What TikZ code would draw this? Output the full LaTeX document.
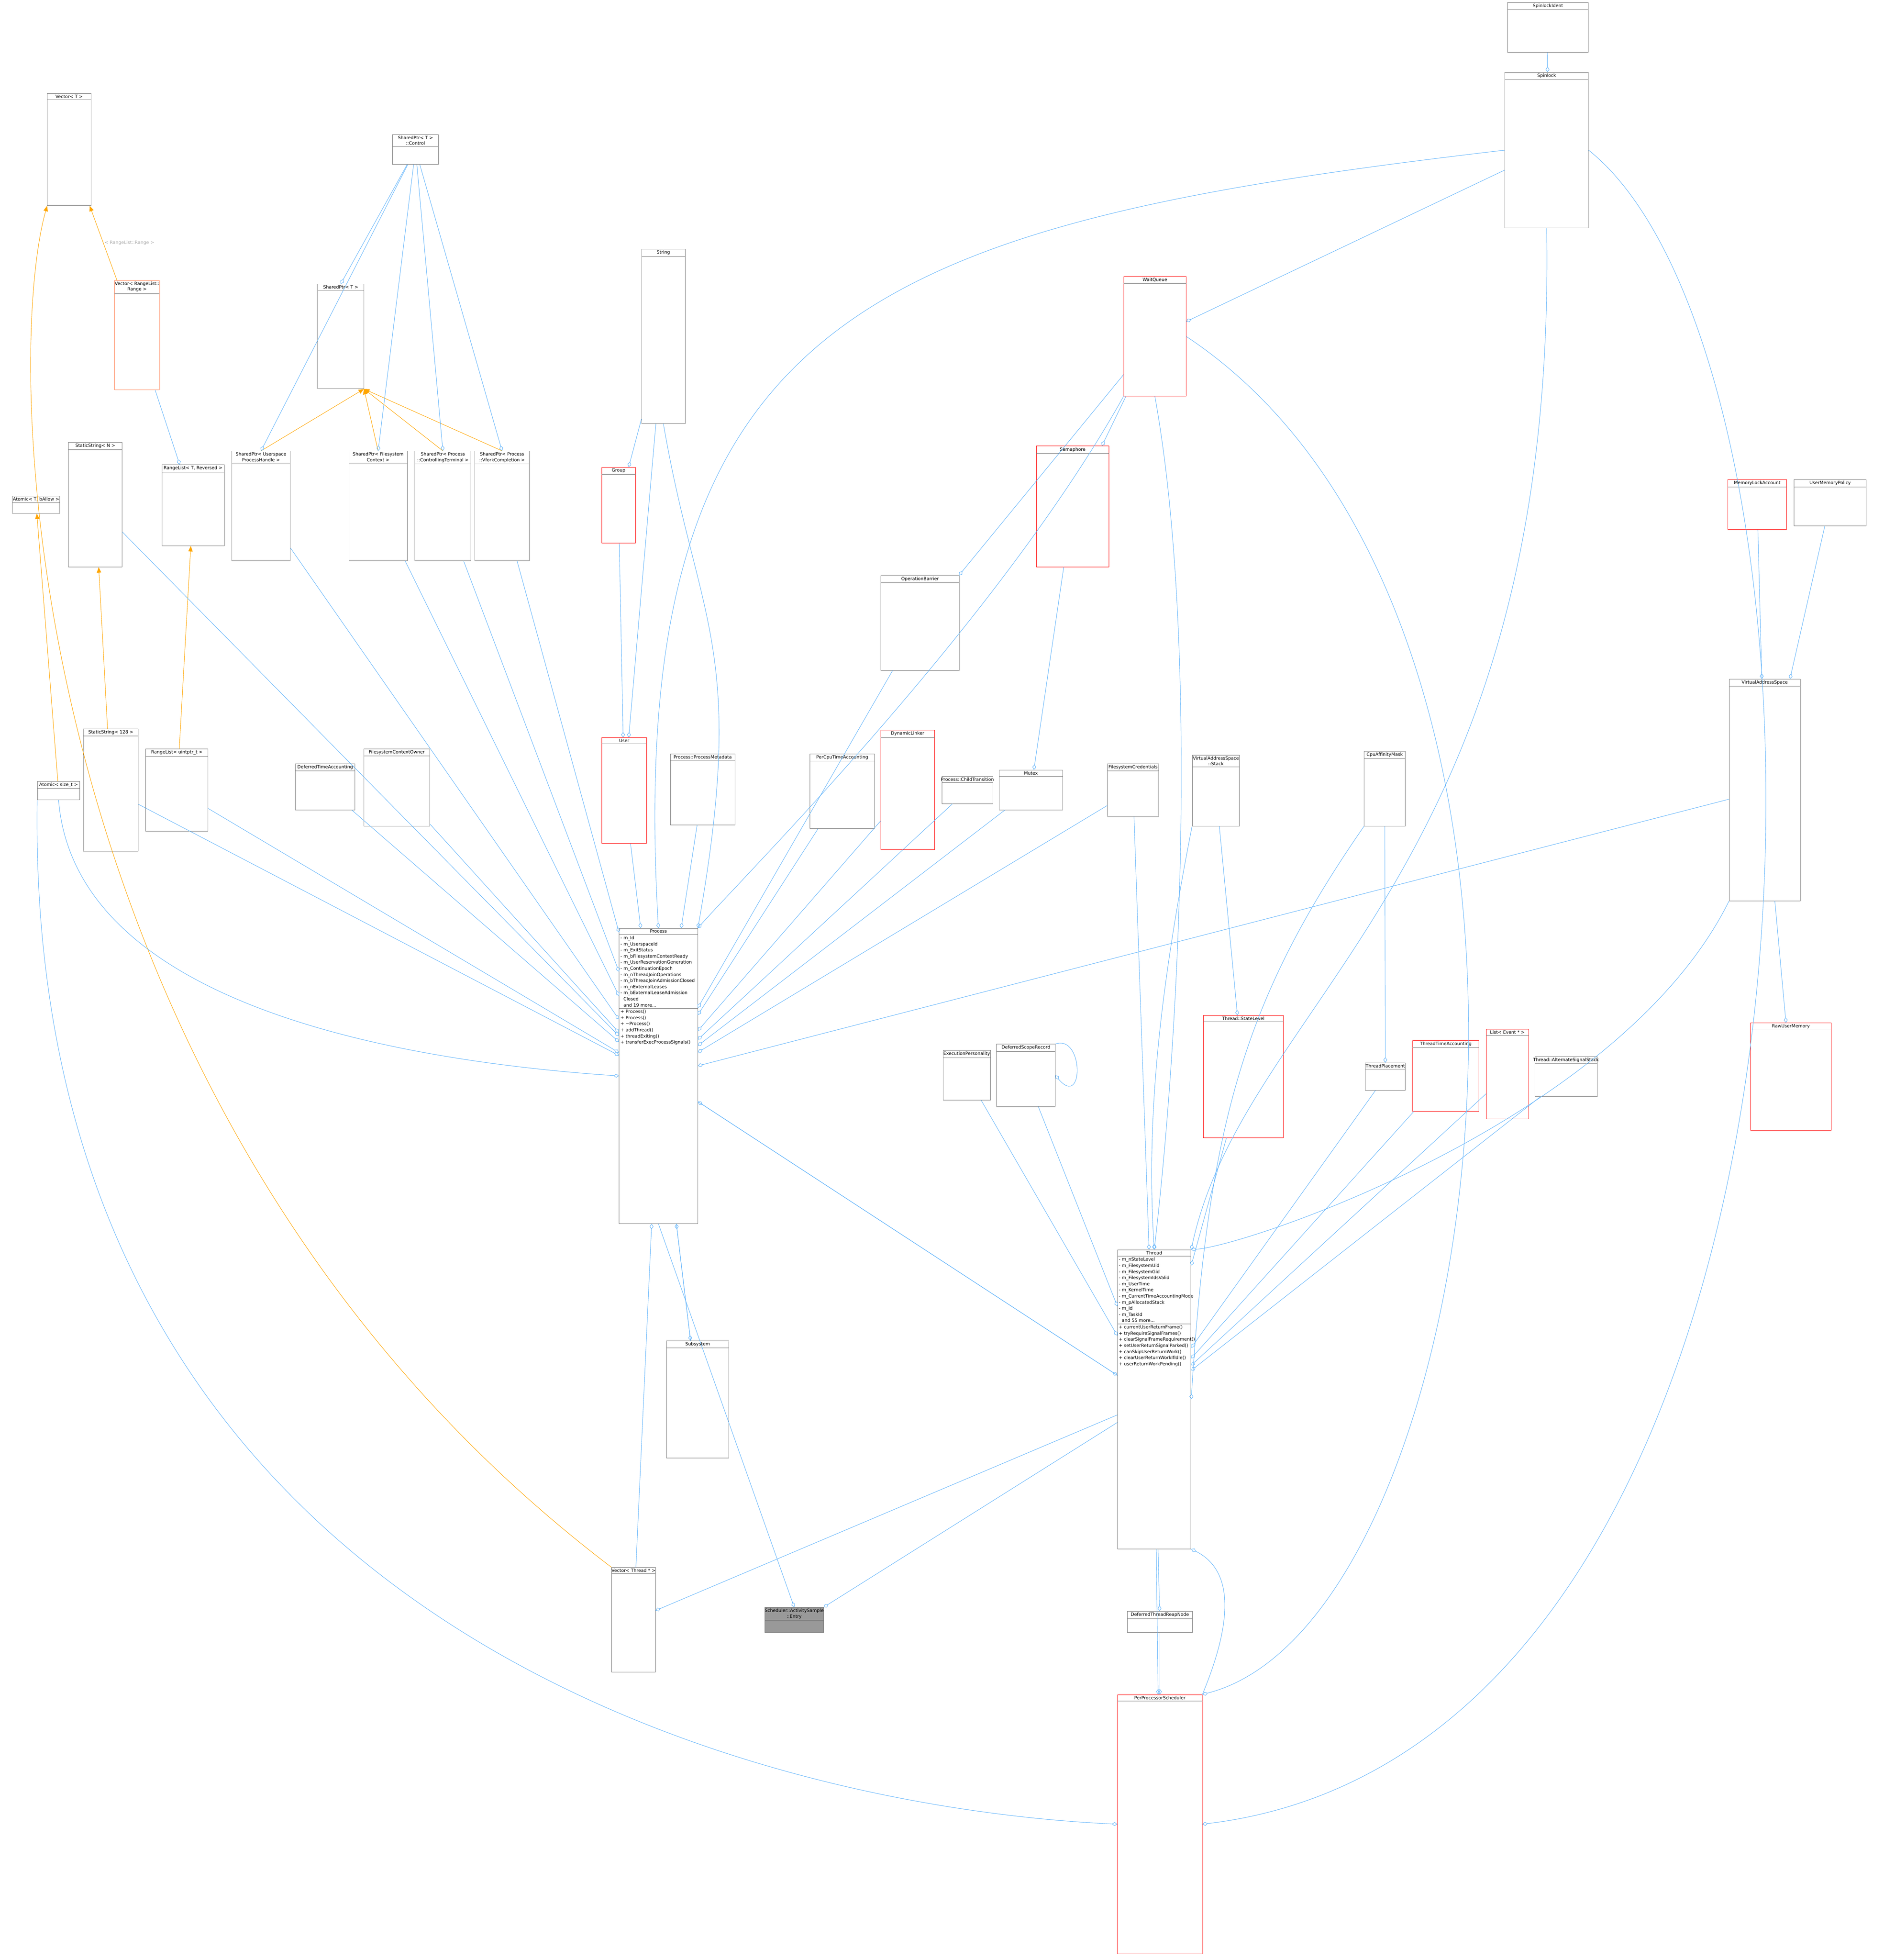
\documentclass[tikz,border=0pt]{standalone}
\usepackage{fontspec}
\setmainfont{DejaVu Sans}
\usetikzlibrary{arrows.meta, fit, calc}

\definecolor{edgeblue}{RGB}{99,180,250}
\definecolor{tplorange}{RGB}{255,165,0}
\definecolor{lblgrey}{RGB}{170,170,170}
\definecolor{boxred}{RGB}{255,0,0}
\definecolor{boxcoral}{RGB}{255,127,80}
\definecolor{boxgrey}{RGB}{153,153,153}

\tikzset{
  cls/.style={draw=black!55, fill=white, line width=0.35pt, inner sep=0pt},
  redcls/.style={draw=boxred},
  coralcls/.style={draw=boxcoral},
  greycls/.style={fill=boxgrey},
  ttl/.style={font=\fontsize{4.1}{5.2}\selectfont, align=center, inner sep=1.2pt},
  mem/.style={font=\fontsize{4.1}{5.6}\selectfont, align=left, anchor=north west, inner sep=1.2pt},
  sep/.style={draw=black!55, line width=0.35pt},
  agg/.style={draw=edgeblue, line width=0.4pt, -{Diamond[open, length=5pt, width=3.5pt]}},
  tpl/.style={draw=tplorange, line width=0.4pt, -{Triangle[length=5pt, width=4pt]}},
  lbl/.style={font=\fontsize{4.1}{5}\selectfont, text=lblgrey, inner sep=1pt},
}

% class box: [style] name x1 y1 x2 y2 title
\newcommand\klass[7][]{%
  \node[cls,#1,fit={(#3,#4)(#5,#6)}] (#2) {};
  \node[ttl,anchor=north] (#2t) at (#2.north) {#7};
  \draw[sep] (#2.west|-#2t.south) -- (#2.east|-#2t.south);
}

\begin{document}
\begin{tikzpicture}[x=0.0401cm, y=-0.0401cm]
\useasboundingbox (0,0) rectangle (1512,1573);

%% top row
\klass{spinident}{1210}{2}{1275}{42}{SpinlockIdent}
\klass{spinlock}{1208}{58}{1275}{183}{Spinlock}
\klass{vect}{38}{75}{73}{165}{Vector< T >}
\klass[coralcls]{vecrange}{92}{225}{128}{313}{Vector< RangeList::\\Range >}
\klass{spctrl}{315}{108}{352}{132}{SharedPtr< T >\\::Control}
\klass{string}{515}{200}{550}{340}{String}
\klass{sharedptr}{255}{228}{292}{312}{SharedPtr< T >}
\klass[redcls]{waitqueue}{902}{222}{952}{318}{WaitQueue}

%% second row
\klass{staticn}{55}{355}{98}{455}{StaticString< N >}
\klass{rangelist}{130}{373}{180}{438}{RangeList< T, Reversed >}
\klass{spuser}{186}{362}{233}{450}{SharedPtr< Userspace\\ProcessHandle >}
\klass{spfsctx}{280}{362}{327}{450}{SharedPtr< Filesystem\\Context >}
\klass{spterm}{333}{362}{378}{450}{SharedPtr< Process\\::ControllingTerminal >}
\klass{spvfork}{381}{362}{425}{450}{SharedPtr< Process\\::VforkCompletion >}
\klass{atomict}{10}{398}{48}{412}{Atomic< T, bAllow >}
\klass[redcls]{group}{483}{375}{510}{436}{Group}
\klass[redcls]{semaphore}{832}{358}{890}{455}{Semaphore}
\klass[redcls]{memlock}{1387}{385}{1434}{425}{MemoryLockAccount}
\klass{usermempol}{1440}{385}{1498}{422}{UserMemoryPolicy}
\klass{opbarrier}{707}{462}{770}{538}{OperationBarrier}
\klass{vas}{1388}{545}{1445}{723}{VirtualAddressSpace}

%% third row
\klass{static128}{67}{585}{111}{683}{StaticString< 128 >}
\klass{rangeuns}{117}{601}{167}{667}{RangeList< uintptr\_t >}
\klass{deftime}{237}{613}{285}{650}{DeferredTimeAccounting}
\klass{fsctxowner}{292}{601}{345}{663}{FilesystemContextOwner}
\klass[redcls]{user}{483}{592}{519}{677}{User}
\klass{procmeta}{538}{605}{590}{662}{Process::ProcessMetadata}
\klass{percpu}{650}{605}{702}{665}{PerCpuTimeAccounting}
\klass[redcls]{dynlinker}{707}{586}{750}{682}{DynamicLinker}
\klass{childtrans}{756}{623}{797}{645}{Process::ChildTransition}
\klass{mutex}{802}{618}{853}{650}{Mutex}
\klass{fscred}{889}{613}{930}{655}{FilesystemCredentials}
\klass{vasstack}{957}{606}{995}{663}{VirtualAddressSpace\\::Stack}
\klass{affinity}{1095}{603}{1128}{663}{CpuAffinityMask}
\klass{atomicsize}{30}{627}{64}{642}{Atomic< size\_t >}

%% Process
\klass{process}{497}{745}{560}{982}{Process}
\node[mem] (processm) at (process.west|-processt.south) {%
- m\_Id\\- m\_UserspaceId\\- m\_ExitStatus\\- m\_bFilesystemContextReady\\- m\_UserReservationGeneration\\- m\_ContinuationEpoch\\- m\_nThreadJoinOperations\\- m\_bThreadJoinAdmissionClosed\\- m\_nExternalLeases\\- m\_bExternalLeaseAdmission\\\phantom{- }Closed\\\phantom{- }and 19 more...};
\draw[sep] (process.west|-processm.south) -- (process.east|-processm.south);
\node[mem] at (process.west|-processm.south) {%
+ Process()\\+ Process()\\+ \textasciitilde Process()\\+ addThread()\\+ threadExiting()\\+ transferExecProcessSignals()};

%% fourth row
\klass{execpers}{757}{843}{795}{883}{ExecutionPersonality}
\klass{defscope}{800}{838}{847}{888}{DeferredScopeRecord}
\klass[redcls]{statelevel}{966}{815}{1030}{913}{Thread::StateLevel}
\klass{placement}{1096}{853}{1128}{875}{ThreadPlacement}
\klass[redcls]{timeacc}{1134}{835}{1187}{892}{ThreadTimeAccounting}
\klass[redcls]{eventlist}{1193}{826}{1227}{898}{List< Event * >}
\klass{altstack}{1232}{848}{1282}{880}{Thread::AlternateSignalStack}
\klass[redcls]{rawmem}{1405}{821}{1470}{907}{RawUserMemory}

%% Thread
\klass{thread}{897}{1003}{956}{1243}{Thread}
\node[mem] (threadm) at (thread.west|-threadt.south) {%
- m\_nStateLevel\\- m\_FilesystemUid\\- m\_FilesystemGid\\- m\_FilesystemIdsValid\\- m\_UserTime\\- m\_KernelTime\\- m\_CurrentTimeAccountingMode\\- m\_pAllocatedStack\\- m\_Id\\- m\_TaskId\\\phantom{- }and 55 more...};
\draw[sep] (thread.west|-threadm.south) -- (thread.east|-threadm.south);
\node[mem] at (thread.west|-threadm.south) {%
+ currentUserReturnFrame()\\+ tryRequireSignalFrames()\\+ clearSignalFrameRequirement()\\+ setUserReturnSignalParked()\\+ canSkipUserReturnWork()\\+ clearUserReturnWorkIfIdle()\\+ userReturnWorkPending()};

%% bottom
\klass{subsystem}{535}{1076}{585}{1170}{Subsystem}
\klass{vecthread}{491}{1258}{526}{1342}{Vector< Thread * >}
\klass[greycls]{entry}{614}{1290}{661}{1310}{Scheduler::ActivitySample\\::Entry}
\klass{reapnode}{905}{1293}{957}{1310}{DeferredThreadReapNode}
\klass[redcls]{pps}{897}{1360}{965}{1568}{PerProcessorScheduler}

%% template instantiations
\draw[tpl] (vecrange) -- node[lbl, right]{< RangeList::Range >} (vect);
\draw[tpl] (vecthread.north west) .. controls (20,900) and (0,300) .. (vect.south west);
\draw[tpl] (static128) -- (staticn);
\draw[tpl] (atomicsize) -- (atomict);
\draw[tpl] (rangeuns) -- (rangelist);
\foreach \sp in {spuser, spfsctx, spterm, spvfork}
  \draw[tpl] (\sp.north) -- (sharedptr.south east);

%% members
\draw[agg] (spinident) -- (spinlock);
\draw[agg] (spinlock) -- (waitqueue);
\draw[agg] (spinlock.west) .. controls (700,180) and (500,250) .. (process.north);
\draw[agg] (spinlock.south) .. controls (1250,700) and (1000,800) .. (thread.north east);
\draw[agg] (spinlock.east) .. controls (1500,300) and (1500,1400) .. (pps.east);
\foreach \sp in {spuser, spfsctx, spterm, spvfork, sharedptr}
  \draw[agg] (spctrl) -- (\sp.north);
\draw[agg] (vecrange) -- (rangelist);
\draw[agg] (string) -- (group);
\draw[agg] (string) -- (user);
\draw[agg] (string.south) .. controls (560,500) and (600,520) .. (process.north east);
\draw[agg] (waitqueue) -- (semaphore);
\draw[agg] (waitqueue) -- (opbarrier);
\draw[agg] (waitqueue.south west) .. controls (800,500) and (600,700) .. (process.north east);
\draw[agg] (waitqueue.south) .. controls (960,500) and (950,800) .. (thread.north);
\draw[agg] (waitqueue.east) .. controls (1300,500) and (1200,1300) .. (pps.north east);
\draw[agg] (semaphore) -- (mutex);
\draw[agg] (group) -- (user);
\foreach \src in {staticn, rangeuns, static128, spuser, spfsctx, spterm, spvfork, deftime, fsctxowner, user, procmeta, percpu, dynlinker, childtrans, mutex, fscred, opbarrier, vas}
  \draw[agg] (\src) -- (process);
\draw[agg] (atomicsize.south) .. controls (60,800) and (300,850) .. (process.west);
\draw[agg] (atomicsize.south west) .. controls (20,1300) and (600,1450) .. (pps.west);
\draw[agg] (memlock) -- (vas);
\draw[agg] (usermempol) -- (vas);
\draw[agg] (vas) -- (rawmem);
\draw[agg] (vas.south west) .. controls (1300,900) and (1000,1000) .. (thread.north east);
\draw[agg] (vasstack) -- (statelevel);
\draw[agg] (vasstack.south west) .. controls (930,800) and (920,900) .. (thread.north);
\draw[agg] (fscred) -- (thread);
\draw[agg] (affinity) -- (placement);
\draw[agg] (affinity.south west) .. controls (1000,800) and (970,900) .. (thread.east);
\foreach \src in {execpers, defscope, statelevel, placement, timeacc, eventlist, altstack}
  \draw[agg] (\src) -- (thread);
\draw[agg] (defscope.north east) .. controls (870,830) and (870,890) .. (defscope.east);
\draw[agg] (process) -- (subsystem);
\draw[agg] (subsystem) -- (process);
\draw[agg] (process) -- (thread);
\draw[agg] (thread) -- (process);
\draw[agg] (process.south) -- (entry.north);
\draw[agg] (thread) -- (entry.north east);
\draw[agg] (thread) -- (vecthread);
\draw[agg] (vecthread) -- (process);
\draw[agg] (thread) -- (reapnode);
\draw[agg] (reapnode) -- (pps);
\draw[agg] (thread) -- (pps);
\draw[agg] (pps.north east) .. controls (990,1300) and (990,1260) .. (thread.south east);

\end{tikzpicture}
\end{document}
